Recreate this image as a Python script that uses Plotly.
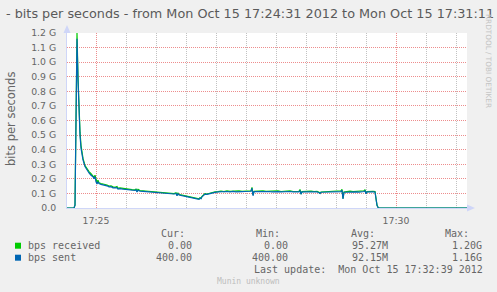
import plotly.graph_objects as go
import pandas as pd

# ---------------- data ----------------
base_time = "2012-10-15 17:24:30"
t_sec = [1, 8, 9, 11, 12, 13, 14, 15, 16, 17, 19, 21, 23, 25, 27, 28, 29, 30, 31, 32, 33, 35, 37, 39, 41, 43, 45, 47, 49, 51, 52, 54, 57, 60, 63, 66, 69, 70, 71, 72, 74, 77, 80, 84, 88, 92, 96, 100, 104, 108, 110, 111, 112, 113, 116, 120, 124, 127, 129, 131, 133, 134, 135, 136, 138, 139, 141, 144, 146, 149, 152, 155, 158, 161, 164, 167, 170, 173, 176, 179, 182, 185, 186, 187, 188, 191, 194, 197, 200, 203, 206, 209, 212, 215, 218, 221, 224, 227, 230, 233, 234, 235, 236, 239, 242, 245, 248, 251, 253, 254, 255, 258, 261, 264, 267, 270, 273, 275, 276, 277, 278, 281, 284, 287, 290, 293, 296, 298, 299, 300, 301, 304, 307, 309, 310, 311, 312, 313, 401]

received_g = [0, 0, 0.02, 1.20, 0.90, 0.68, 0.52, 0.43, 0.38, 0.34, 0.29, 0.265, 0.25, 0.235, 0.222, 0.21, 0.225, 0.20, 0.175, 0.19, 0.172, 0.168, 0.165, 0.16, 0.158, 0.15, 0.152, 0.145, 0.142, 0.148, 0.135, 0.138, 0.134, 0.131, 0.128, 0.126, 0.125, 0.13, 0.118, 0.128, 0.12, 0.118, 0.115, 0.112, 0.109, 0.106, 0.104, 0.102, 0.10, 0.099, 0.104, 0.088, 0.102, 0.092, 0.088, 0.083, 0.077, 0.072, 0.069, 0.066, 0.062, 0.07, 0.066, 0.08, 0.09, 0.098, 0.096, 0.103, 0.105, 0.11, 0.112, 0.116, 0.113, 0.117, 0.114, 0.116, 0.113, 0.118, 0.115, 0.116, 0.114, 0.118, 0.142, 0.09, 0.115, 0.117, 0.114, 0.118, 0.115, 0.117, 0.114, 0.116, 0.118, 0.113, 0.116, 0.114, 0.117, 0.113, 0.115, 0.114, 0.127, 0.096, 0.112, 0.115, 0.113, 0.116, 0.113, 0.114, 0.108, 0.101, 0.11, 0.111, 0.113, 0.112, 0.114, 0.112, 0.115, 0.118, 0.128, 0.065, 0.11, 0.113, 0.115, 0.112, 0.114, 0.112, 0.115, 0.118, 0.125, 0.10, 0.112, 0.115, 0.114, 0.113, 0.06, 0.02, 0.005, 0, 0]

sent_g = [4e-7, 4e-7, 0.02, 1.16, 0.88, 0.66, 0.50, 0.41, 0.37, 0.33, 0.285, 0.26, 0.24, 0.225, 0.215, 0.20, 0.215, 0.18, 0.165, 0.18, 0.168, 0.162, 0.16, 0.155, 0.152, 0.145, 0.146, 0.138, 0.137, 0.14, 0.13, 0.133, 0.13, 0.127, 0.124, 0.122, 0.12, 0.125, 0.11, 0.122, 0.116, 0.114, 0.112, 0.108, 0.106, 0.103, 0.10, 0.099, 0.097, 0.096, 0.10, 0.084, 0.098, 0.09, 0.085, 0.08, 0.074, 0.07, 0.067, 0.064, 0.06, 0.067, 0.064, 0.077, 0.087, 0.095, 0.093, 0.10, 0.102, 0.107, 0.110, 0.112, 0.111, 0.113, 0.111, 0.114, 0.110, 0.113, 0.112, 0.113, 0.112, 0.115, 0.135, 0.084, 0.112, 0.113, 0.111, 0.114, 0.112, 0.113, 0.110, 0.113, 0.112, 0.110, 0.112, 0.111, 0.113, 0.110, 0.111, 0.111, 0.12, 0.095, 0.110, 0.111, 0.110, 0.112, 0.110, 0.111, 0.104, 0.100, 0.108, 0.109, 0.110, 0.109, 0.110, 0.109, 0.111, 0.112, 0.122, 0.062, 0.108, 0.110, 0.111, 0.109, 0.111, 0.109, 0.110, 0.113, 0.118, 0.098, 0.110, 0.112, 0.111, 0.110, 0.055, 0.018, 0.004, 4e-7, 4e-7]

y_tickvals = [0.0, 0.1, 0.2, 0.3, 0.4, 0.5, 0.6, 0.7, 0.8, 0.9, 1.0, 1.1, 1.2]
y_ticktext = ["0.0", "0.1 G", "0.2 G", "0.3 G", "0.4 G", "0.5 G", "0.6 G", "0.7 G", "0.8 G", "0.9 G", "1.0 G", "1.1 G", "1.2 G"]

series_names = ["bps received", "bps sent"]
series_colors = ["#00CC00", "#0066B3"]
stat_headers = ["Cur:", "Min:", "Avg:", "Max:"]
stats_received = ["0.00", "0.00", "95.27M", "1.20G"]
stats_sent = ["400.00", "400.00", "92.15M", "1.16G"]
title_text = "- bits per seconds - from Mon Oct 15 17:24:31 2012 to Mon Oct 15 17:31:11 2012"
last_update = "Last update:  Mon Oct 15 17:32:39 2012"

# ---------------- figure ----------------
W, H = 497, 292
L, R, T, B = 67, 30, 33, 84
PW, PH = W - L - R, H - T - B


def px(x):
    return (x - L) / PW


def py(y):
    return (H - B - y) / PH


times = pd.to_datetime(base_time) + pd.to_timedelta(t_sec, unit="s")

fig = go.Figure()
for name, vals, col in [(series_names[0], received_g, series_colors[0]),
                        (series_names[1], sent_g, series_colors[1])]:
    fig.add_trace(go.Scatter(x=times, y=vals, mode="lines", name=name,
                             line=dict(color=col, width=1.2), showlegend=False))

FONT = "DejaVu Sans"
MONO = "DejaVu Sans Mono"
FC = "#666666"
AX = "#CFD6F8"

fig.update_layout(
    width=W, height=H,
    margin=dict(l=L, r=R, t=T, b=B),
    paper_bgcolor="#F0F0F0", plot_bgcolor="#FFFFFF",
    font=dict(family=FONT, color=FC, size=9.3),
)
fig.update_xaxes(
    type="date",
    range=["2012-10-15 17:24:31", "2012-10-15 17:31:11"],
    tick0="2012-10-15 17:25:00", dtick=300000, tickformat="%H:%M",
    showgrid=True, gridcolor="rgba(222,48,48,0.55)", griddash="1px,1px", gridwidth=1,
    minor=dict(dtick=30000, tick0="2012-10-15 17:25:00", showgrid=True,
               gridcolor="rgba(120,120,120,0.45)", griddash="1px,1px", gridwidth=1),
    showline=True, linecolor=AX, linewidth=1,
    ticks="", ticklabelstandoff=4, zeroline=False,
    tickfont=dict(family=FONT, size=9.3, color=FC),
)
fig.update_yaxes(
    range=[0, 1.2], tickvals=y_tickvals, ticktext=y_ticktext,
    showgrid=True, gridcolor="rgba(222,48,48,0.55)", griddash="1px,1px", gridwidth=1,
    showline=True, linecolor=AX, linewidth=1, zeroline=False,
    ticks="", ticklabelstandoff=8,
    tickfont=dict(family=FONT, size=9.3, color=FC),
)

# axis arrows
fig.add_shape(type="path", xref="paper", yref="paper",
              path=f"M {px(63.5)},{py(33)} L {px(70.5)},{py(33)} L {px(67)},{py(25)} Z",
              fillcolor=AX, line=dict(width=0))
fig.add_shape(type="path", xref="paper", yref="paper",
              path=f"M {px(467)},{py(204.5)} L {px(467)},{py(211.5)} L {px(475)},{py(208)} Z",
              fillcolor=AX, line=dict(width=0))


def ann(text, x, y, anchor="left", size=10, family=MONO, color=FC, angle=0):
    fig.add_annotation(text=text, x=px(x), y=py(y), xref="paper", yref="paper",
                       xanchor=anchor, yanchor="middle", showarrow=False,
                       borderpad=0, textangle=angle,
                       font=dict(family=family, size=size, color=color))


# title, axis label, watermark
ann(title_text, 5, 13.5, "left", 12.8, FONT, "#5a5a5a")
ann("bits per seconds", 11, 119, "center", 11.5, FONT, FC, -90)
ann("RRDTOOL / TOBI OETIKER", 489, 61, "center", 7.3, FONT, "#C4C4C4", 90)

# legend
hdr_right = [185, 280, 375, 469]
val_right = [192.7, 288.3, 388.3, 482.7]
for h, xr in zip(stat_headers, hdr_right):
    ann(h, xr + 0.5, 233.3, "right")
rows_y = [245.7, 257.7]
for name, col, stats, yy in zip(series_names, series_colors, [stats_received, stats_sent], rows_y):
    fig.add_shape(type="rect", xref="paper", yref="paper",
                  x0=px(15), x1=px(21), y0=py(yy + 3), y1=py(yy - 3),
                  fillcolor=col, line=dict(width=0))
    ann(name, 26.5, yy, "left")
    for s, xr in zip(stats, val_right):
        ann(s, xr + 0.5, yy, "right")
ann(last_update, 483.8, 269.3, "right")
ann("Munin unknown", 248.5, 281, "center", 8, MONO, "#BDBDBD")

fig.write_html("out.html")
